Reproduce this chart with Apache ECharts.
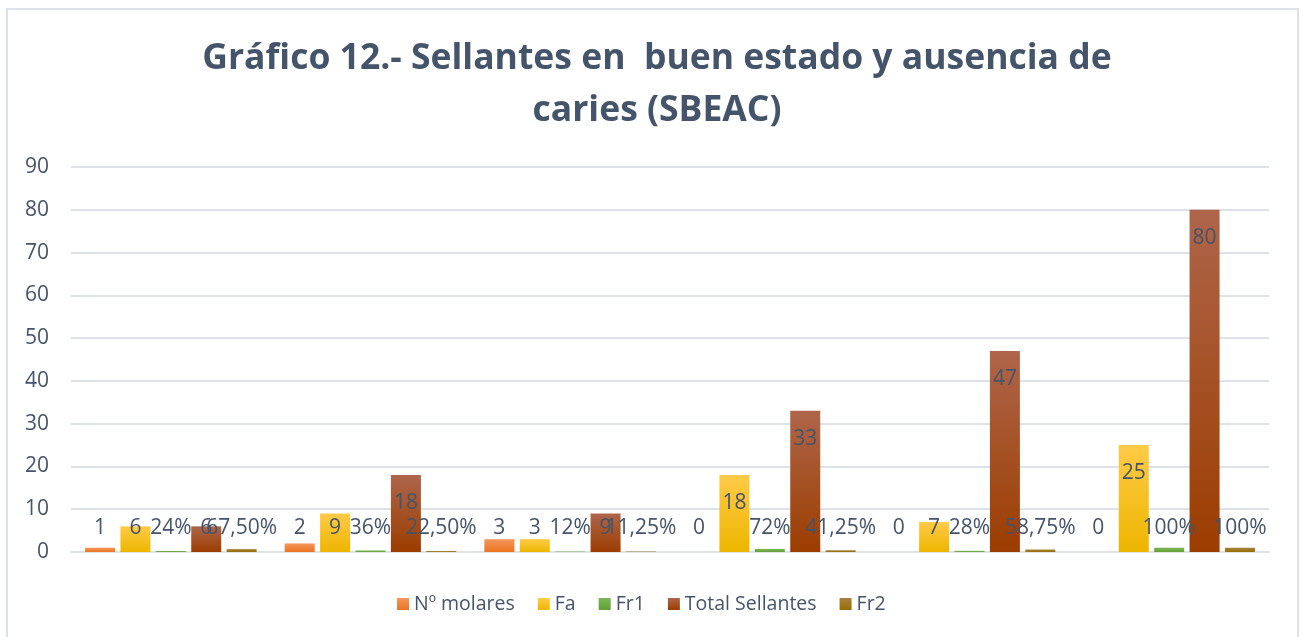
<!DOCTYPE html>
<html>
<head>
<meta charset="utf-8">
<script src="https://cdn.jsdelivr.net/npm/echarts@6/dist/echarts.min.js"></script>
<style>
  html, body { margin: 0; padding: 0; background: #fff; }
  #frame { position: absolute; left: 6px; top: 8px; width: 1293px; height: 640px; border: 2px solid #DDE2EA; box-sizing: border-box; }
  #chart { position: absolute; left: 0; top: 0; width: 1303px; height: 637px; }
</style>
</head>
<body>
<div id="frame"></div>
<div id="chart"></div>
<script>
// datos del grafico
var categorias = ['1', '2', '3', '4', '5', '6'];
var nombres = ['Nº molares', 'Fa', 'Fr1', 'Total Sellantes', 'Fr2'];
var molares = [1, 2, 3, 0, 0, 0];
var fa = [6, 9, 3, 18, 7, 25];
var fr1 = [0.24, 0.36, 0.12, 0.72, 0.28, 1];
var totalSellantes = [6, 18, 9, 33, 47, 80];
var fr2 = [0.675, 0.225, 0.1125, 0.4125, 0.5875, 1];
var ejeY = [0, 90, 10]; // min, max, intervalo

var chart = echarts.init(document.getElementById('chart'));
var txt = '#44546A';
var fuente = '"Open Sans", "Noto Sans", sans-serif';

function grad(a, b) {
    return new echarts.graphic.LinearGradient(0, 0, 0, 1, [
        { offset: 0, color: a },
        { offset: 1, color: b }
    ]);
}

// porcentajes con coma decimal
function pct(v) {
    var p = v * 100;
    if (Math.abs(p - Math.round(p)) < 1e-9) return Math.round(p) + '%';
    return p.toFixed(2).replace('.', ',') + '%';
}

function serie(nombre, datos, c1, c2, esPct) {
    return {
        name: nombre,
        type: 'bar',
        data: datos,
        barWidth: 30,
        barGap: '18%',
        itemStyle: { color: grad(c1, c2) },
        label: {
            show: true,
            position: 'inside',
            color: txt,
            fontSize: 21,
            fontFamily: fuente,
            formatter: function (p) { return esPct ? pct(p.value) : String(p.value); }
        },
        // etiqueta dentro del extremo, pero nunca mas abajo que la linea base
        labelLayout: function (p) {
            var r = p.rect;
            var top = Math.min(r.y, r.y + r.height);
            var bottom = Math.max(r.y, r.y + r.height);
            return {
                x: r.x + r.width / 2,
                y: Math.min(top + 28, bottom - 24),
                align: 'center',
                verticalAlign: 'middle'
            };
        }
    };
}

var option = {
    backgroundColor: 'transparent',
    animation: false,
    title: {
        text: 'Gráfico 12.- Sellantes en  buen estado y ausencia de\ncaries (SBEAC)',
        left: 652,
        top: 28,
        textAlign: 'center',
        textStyle: {
            color: txt,
            fontFamily: fuente,
            fontWeight: 'bold',
            fontSize: 35.5,
            lineHeight: 52
        }
    },
    legend: {
        data: nombres,
        bottom: 18,
        left: 392,
        icon: 'rect',
        itemWidth: 12,
        itemHeight: 12,
        itemGap: 23,
        textStyle: { color: txt, fontSize: 19.5, fontFamily: fuente }
    },
    grid: { left: 71, right: 34, top: 167, bottom: 85 },
    xAxis: {
        type: 'category',
        data: categorias,
        axisLine: { show: true, lineStyle: { color: '#DDE2E8', width: 2 } },
        axisTick: { show: false },
        axisLabel: { show: false }
    },
    yAxis: {
        type: 'value',
        min: ejeY[0],
        max: ejeY[1],
        interval: ejeY[2],
        axisLine: { show: false },
        axisTick: { show: false },
        splitLine: { lineStyle: { color: '#DDE2E8', width: 2 } },
        axisLabel: { color: txt, fontSize: 21, fontFamily: fuente, margin: 22 }
    },
    series: [
        serie(nombres[0], molares, '#F5965C', '#EC7321', false),
        serie(nombres[1], fa, '#FFCA47', '#EDB600', false),
        serie(nombres[2], fr1, '#7DB558', '#62A036', true),
        serie(nombres[3], totalSellantes, '#AE654A', '#9C3D00', false),
        serie(nombres[4], fr2, '#A8823F', '#956E00', true)
    ]
};

chart.setOption(option);
</script>
</body>
</html>
